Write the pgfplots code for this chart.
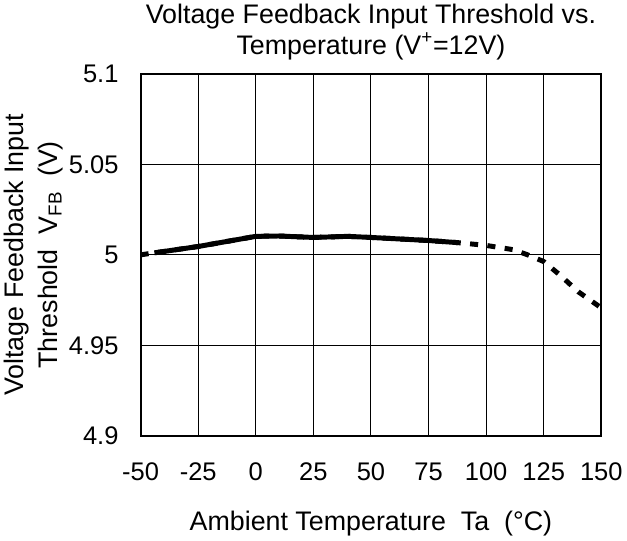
\documentclass[border=0pt]{standalone}
\usepackage{pgfplots}
\pgfplotsset{compat=1.18}
\usepackage{fontspec}
\setmainfont{Liberation Sans}
\begin{document}
\begin{tikzpicture}
\begin{axis}[
  scale only axis, width=343.5pt, height=270pt,
  xmin=-50, xmax=150, ymin=4.9, ymax=5.1,
  xtick={-50,-25,...,150}, ytick={4.9,4.95,5,5.05,5.1},
  grid=major, major grid style={black, line width=0.7pt},
  axis line style={line width=1.5pt}, tick style={draw=none},
  /pgf/number format/assume math mode=true,
  ticklabel style={font=\fontsize{19}{22}\selectfont},
  xticklabel style={yshift=-22pt, text height=0.75em, text depth=0pt},
  yticklabel style={xshift=-13pt},
  xlabel={Ambient Temperature\ \ Ta\ \ (°C)},
  ylabel={Voltage Feedback Input\\Threshold\ \ V\textsubscript{FB}\ \ (V)},
  ylabel style={align=center, font=\fontsize{20}{25}\selectfont, yshift=-2.5pt},
  xlabel style={font=\fontsize{20}{24}\selectfont, yshift=-16pt},
  title={Voltage Feedback Input Threshold vs.\\Temperature (V\textsuperscript{+}=12V)},
  title style={align=center, font=\fontsize{20}{22.5}\selectfont, yshift=1pt},
]
\addplot[black, line width=3.7pt, dash pattern=on 6pt off 7pt] coordinates {
(-50,5.0) (-25,5.0046) (0,5.0102) (10,5.0104) (25,5.0096) (40,5.0102) (50,5.0096)
(75,5.0079) (88,5.0067) (100,5.0052) (112,5.0028) (118,5.0) (125,4.9963)
(132,4.9889) (140,4.9796) (150,4.9707)};
\addplot[black, line width=3.7pt, line join=round] coordinates {
(-44,5.0011) (-25,5.0046) (0,5.0102) (10,5.0104) (25,5.0096) (40,5.0102) (50,5.0096)
(75,5.0079) (88,5.0067)};
\end{axis}
\end{tikzpicture}
\end{document}
